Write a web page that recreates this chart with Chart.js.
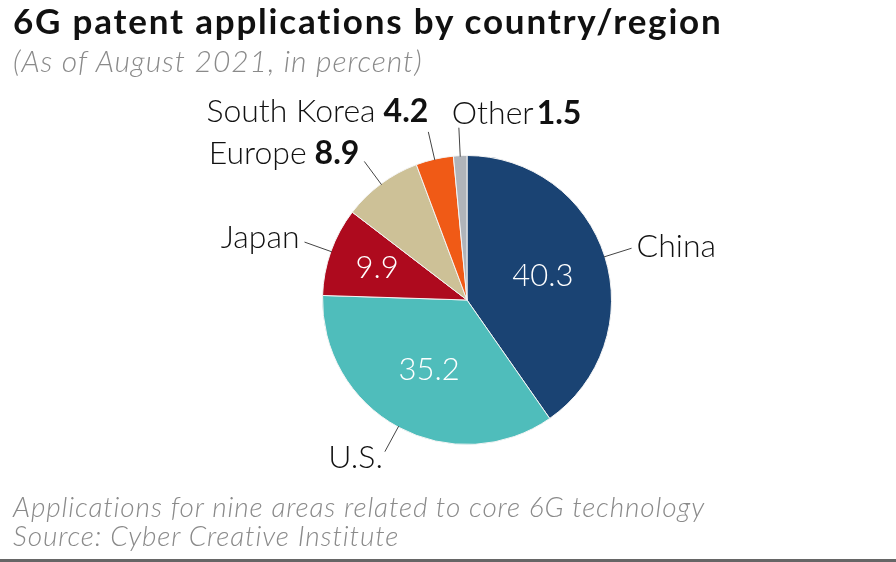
<!DOCTYPE html>
<html>
<head>
<meta charset="utf-8">
<script src="https://cdn.jsdelivr.net/npm/chart.js@4"></script>
<style>
  body { margin: 0; background: #fff; }
  #wrap { position: relative; width: 896px; height: 562px; overflow: hidden; font-family: Lato, "Noto Sans", sans-serif; }
  #title { position: absolute; left: 13px; top: -1px; font-size: 35px; font-weight: 700; letter-spacing: 1.8px; color: #111; white-space: nowrap; }
  #subtitle { position: absolute; left: 13px; top: 42px; font-size: 30px; font-weight: 300; font-style: italic; letter-spacing: 0.95px; color: #8a8a8a; white-space: nowrap; }
  #note { position: absolute; left: 13px; top: 492px; font-size: 28px; font-weight: 300; font-style: italic; letter-spacing: 0.85px; color: #8a8a8a; line-height: 29px; white-space: nowrap; }
  #rule { position: absolute; left: 0; right: 0; top: 559px; height: 3px; background: #666; }
  canvas { position: absolute; left: 0; top: 0; }
</style>
</head>
<body>
<div id="wrap">
  <canvas id="pie" width="896" height="562"></canvas>
  <div id="title">6G patent applications by country/region</div>
  <div id="subtitle">(As of August 2021, in percent)</div>
  <div id="note">Applications for nine areas related to core 6G technology<br>Source: Cyber Creative Institute</div>
  <div id="rule"></div>
</div>
<script>
// data, clockwise from 12 o'clock
const countries = ["China", "U.S.", "Japan", "Europe", "South Korea", "Other"];
const shares = [40.3, 35.2, 9.9, 8.9, 4.2, 1.5];
const sliceColors = ["#1a4373", "#4fbdbb", "#ae0a1e", "#cdc197", "#f05a16", "#b0b4ba"];

// where each value goes: inside the slice or next to the outer label
const valueInside = [true, true, true, false, false, false];
// label placement at the end of the leader line: [align, dx, dy, gap before value]
const labelPlace = [
  ["left", 5, -2, 0],
  ["right", -2, 6, 0],
  ["right", -5, -4, 0],
  ["right", -5, -8, 8],
  ["right", 0, -20, 8],
  ["left", -7, -14, 3],
];

const FONT = "Lato, 'Noto Sans', sans-serif";

const outerLabels = {
  id: "outerLabels",
  afterDatasetsDraw(chart) {
    const ctx = chart.ctx;
    const arcs = chart.getDatasetMeta(0).data;
    ctx.save();
    arcs.forEach((arc, i) => {
      const mid = (arc.startAngle + arc.endAngle) / 2;
      const cx = arc.x, cy = arc.y, r = arc.outerRadius;
      const cos = Math.cos(mid), sin = Math.sin(mid);
      ctx.textBaseline = "middle";
      if (valueInside[i]) {
        const k = i === 2 ? 0.66 : 0.55;
        ctx.fillStyle = "#fff";
        ctx.font = "300 31px " + FONT;
        ctx.textAlign = "center";
        ctx.fillText(shares[i].toFixed(1), cx + cos * r * k, cy + sin * r * k);
      }
      // leader line
      const x0 = cx + cos * (r - 1), y0 = cy + sin * (r - 1);
      const x1 = cx + cos * (r + 28), y1 = cy + sin * (r + 28);
      ctx.strokeStyle = "#444";
      ctx.lineWidth = 1;
      ctx.beginPath();
      ctx.moveTo(x0, y0);
      ctx.lineTo(x1, y1);
      ctx.stroke();
      // label text
      const [align, dx, dy, gap] = labelPlace[i];
      const name = countries[i];
      const val = valueInside[i] ? "" : shares[i].toFixed(1);
      ctx.fillStyle = "#111";
      ctx.font = "300 32px " + FONT;
      const wName = ctx.measureText(name).width + gap;
      ctx.font = "700 32px " + FONT;
      const wVal = ctx.measureText(val).width;
      let tx = x1 + dx;
      if (align === "right") tx -= wName + wVal;
      ctx.textAlign = "left";
      ctx.font = "300 32px " + FONT;
      ctx.fillText(name, tx, y1 + dy);
      ctx.font = "700 32px " + FONT;
      ctx.fillText(val, tx + wName, y1 + dy);
    });
    ctx.restore();
  }
};

new Chart(document.getElementById("pie").getContext("2d"), {
  type: "pie",
  data: {
    labels: countries,
    datasets: [{
      data: shares,
      backgroundColor: sliceColors,
      borderColor: "#f4f4f4",
      borderWidth: 1,
    }],
  },
  options: {
    responsive: false,
    animation: false,
    layout: { padding: { left: 322, right: 284, top: 155, bottom: 117 } },
    plugins: { legend: { display: false }, tooltip: { enabled: false } },
  },
  plugins: [outerLabels],
});
</script>
</body>
</html>
